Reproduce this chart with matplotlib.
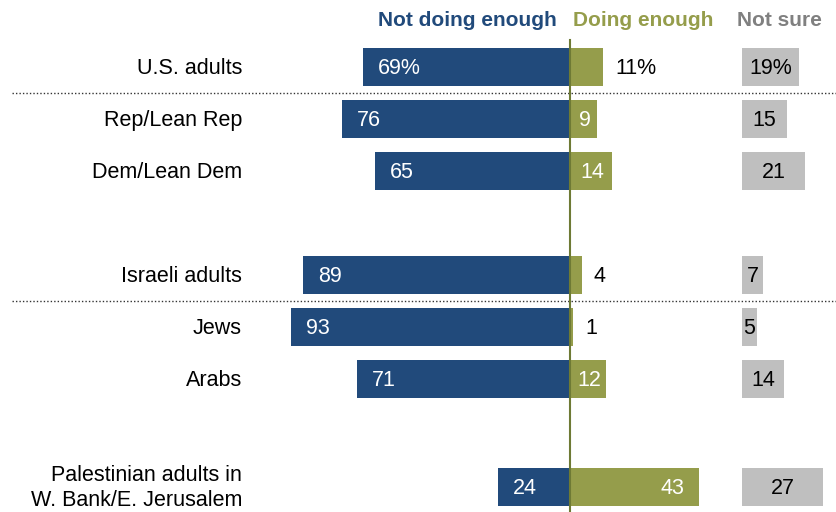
import matplotlib.pyplot as plt
import numpy as np

plt.rcParams['font.family'] = ['Liberation Sans', 'DejaVu Sans']

groups = ['U.S. adults', 'Rep/Lean Rep', 'Dem/Lean Dem', 'Israeli adults',
          'Jews', 'Arabs', 'Palestinian adults in\nW. Bank/E. Jerusalem']
not_enough = [69, 76, 65, 89, 93, 71, 24]
doing_enough = [11, 9, 14, 4, 1, 12, 43]
not_sure = [19, 15, 21, 7, 5, 14, 27]
rows = [0, 1, 2, 4, 5, 6, 8.08]

blue = '#214a7b'
green = '#959d4b'
grey = '#bfbfbf'

fig = plt.figure(figsize=(8.37, 5.12), dpi=100)
ax = fig.add_axes([0, 0, 1, 1])
ax.set_xlim(-190, 89)
ax.set_ylim(8.558, -1.288)
ax.axis('off')

h = 0.73
ns_off = 57.33
ax.barh(rows, [-v for v in not_enough], height=h, color=blue)
ax.barh(rows, doing_enough, height=h, color=green)
ax.barh(rows, not_sure, left=ns_off, height=h, color=grey)

fs = 15.5
for i, y in enumerate(rows):
    pct = '%' if i == 0 else ''
    ax.text(-not_enough[i] + 5, y + 0.02, f'{not_enough[i]}{pct}', color='white',
            ha='left', va='center', fontsize=fs)
    d = doing_enough[i]
    if d >= 20:
        ax.text(d - 5, y + 0.02, f'{d}', color='white', ha='right', va='center', fontsize=fs)
    elif i in (1, 2, 5):
        ax.text(d / 2 + 0.5, y + 0.02, f'{d}', color='white', ha='center', va='center', fontsize=fs)
    else:
        ax.text(d + 4, y + 0.02, f'{d}{pct}', color='black', ha='left', va='center', fontsize=fs)
    ax.text(ns_off + not_sure[i] / 2, y + 0.02, f'{not_sure[i]}{pct}', color='black',
            ha='center', va='center', fontsize=fs)
    ax.text(-109.3, y + 0.02, groups[i], ha='right', va='center', fontsize=fs,
            linespacing=1.25)

# separators
for y in [0.5, 4.5]:
    ax.plot([-186, 89], [y, y], color='#333333', lw=1, ls=(0, (1, 1.5)))

ax.plot([0, 0], [-0.52, 8.6], color='#6e7a35', lw=1.5)

hfam = ['Liberation Sans Narrow', 'Liberation Sans']
ax.text(-4.3, -0.9, 'Not doing enough', color=blue, ha='right', va='center',
        fontsize=15, fontweight='bold', family=hfam)
ax.text(1, -0.9, 'Doing enough', color=green, ha='left', va='center',
        fontsize=15, fontweight='bold', family=hfam)
ax.text(55.7, -0.9, 'Not sure', color='#808080', ha='left', va='center',
        fontsize=15, fontweight='bold', family=hfam)

fig.savefig('out.png', dpi=100)
